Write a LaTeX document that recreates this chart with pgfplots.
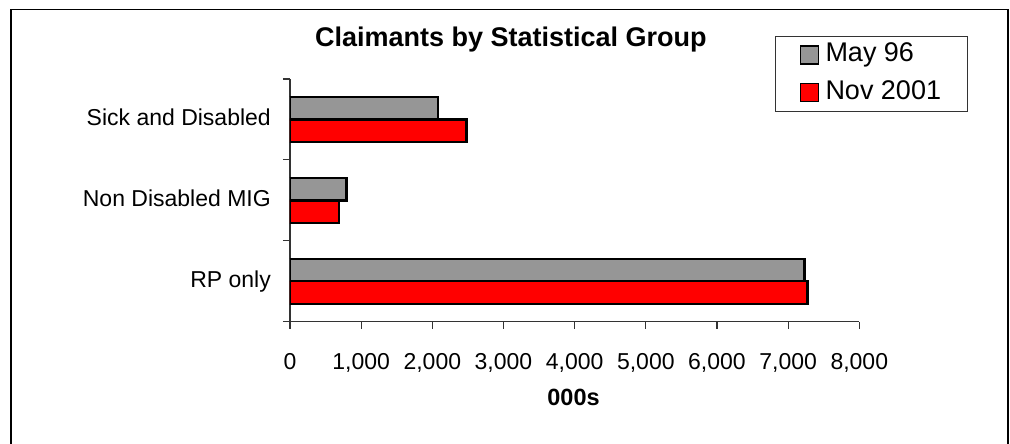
\documentclass[border=0pt]{standalone}
\usepackage{fontspec}
\setmainfont{Liberation Sans}
\usepackage{pgfplots}
\pgfplotsset{compat=1.18}

\definecolor{maygray}{RGB}{150,150,150}
\definecolor{novred}{RGB}{255,0,0}

\begin{document}
\begin{tikzpicture}
\useasboundingbox (0pt,0pt) rectangle (1010pt,444pt);
% outer chart frame
\draw[line width=1.5pt] (10.8pt,-2pt) -- (10.8pt,434.7pt) -- (1008pt,434.7pt) -- (1008pt,-2pt);
\begin{axis}[
    at={(290pt,122.3pt)}, anchor=south west,
    scale only axis,
    width=569.3pt, height=242.7pt,
    xbar, bar width=22.5pt,
    xmin=0, xmax=8000, ymin=-0.5, ymax=2.5,
    axis lines=left,
    axis line style={-, black!80, line width=1.2pt},
    tick style={black!80, line width=1.2pt},
    tick align=outside, major tick length=7pt,
    xtick={0,1000,...,8000},
    ytick={-0.5,0.5,1.5,2.5}, yticklabels={},
    extra y ticks={0,1,2},
    extra y tick labels={RP only,Non Disabled MIG,Sick and Disabled},
    extra y tick style={major tick length=0pt},
    scaled x ticks=false,
    /pgf/number format/assume math mode=true,
    /pgf/number format/1000 sep={,},
    ticklabel style={font=\fontsize{23}{27}\selectfont, inner sep=0pt},
    xticklabel style={anchor=base, yshift=-41pt},
    yticklabel style={anchor=base east, xshift=-19pt, yshift=-6.5pt},
    title={Claimants by Statistical Group},
    title style={font=\fontsize{27}{31}\selectfont\bfseries,
      at={(0.388,1.110)}, anchor=base},
    xlabel={000s},
    xlabel style={font=\fontsize{23.5}{27}\selectfont\bfseries,
      at={(0.498,-0.347)}, anchor=base},
    legend image code/.code={
      \draw[#1, line width=1.5pt] (0pt,-9pt) rectangle (18pt,9pt);
      \path (22pt,0pt);},
    legend style={at={(0.852,1.178)}, anchor=north west,
      draw=black!80, line width=1pt,
      font=\fontsize{27}{30}\selectfont,
      inner xsep=24pt, inner ysep=0pt,
      nodes={inner sep=2pt, inner ysep=6.3pt, text height=19pt, text depth=6pt}},
    legend cell align=left,
  ]
\addplot[draw=black, line width=2.4pt, fill=maygray, bar shift=11.25pt]
  coordinates {(7230,0) (795,1) (2080,2)};
\addplot[draw=black, line width=2.4pt, fill=novred, bar shift=-11.25pt]
  coordinates {(7270,0) (690,1) (2480,2)};
\legend{May 96,Nov 2001}
\end{axis}
\end{tikzpicture}
\end{document}
